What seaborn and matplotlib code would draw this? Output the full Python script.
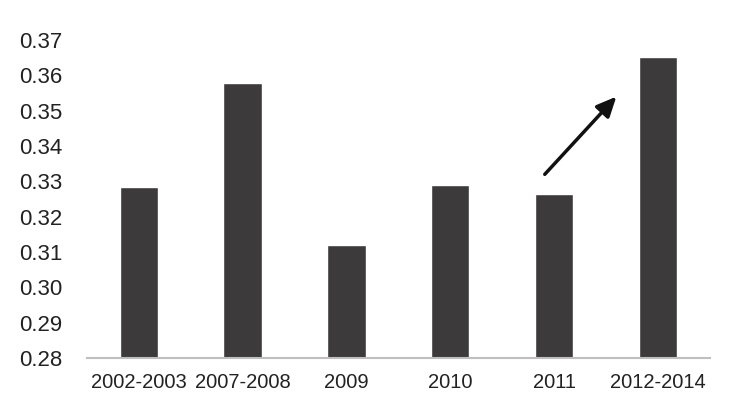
import matplotlib
matplotlib.use("Agg")
import matplotlib.pyplot as plt
import seaborn as sns
import pandas as pd

# podaci ocitani sa slike
periodi = ["2002-2003", "2007-2008", "2009", "2010", "2011", "2012-2014"]
vrednosti = [0.3285, 0.3579, 0.3120, 0.3289, 0.3265, 0.3651]
y_ticks = [0.28, 0.29, 0.30, 0.31, 0.32, 0.33, 0.34, 0.35, 0.36, 0.37]

# strelica (od 2011 ka 2012-2014)
strelica_od = (3.91, 0.3320)
strelica_do = (4.60, 0.3540)

df = pd.DataFrame({"period": periodi, "vrednost": vrednosti})

sns.set_style("white")
plt.rcParams["font.family"] = ["Liberation Sans", "DejaVu Sans"]

fig = plt.figure(figsize=(7.31, 4.13), dpi=100)
ax = fig.add_axes([0.119, 0.133, 0.852, 0.770])

sns.barplot(data=df, x="period", y="vrednost", color="#3d3a3b",
            saturation=1, width=0.37, ax=ax)

ax.set_ylim(0.28, 0.37)
ax.set_xlim(-0.5, 5.5)
ax.set_yticks(y_ticks)
ax.set_yticklabels([f"{v:.2f}" for v in y_ticks], fontsize=16, color="#222222")
ax.tick_params(axis="x", labelsize=14.5, colors="#222222", length=0, pad=11)
ax.tick_params(axis="y", length=0, pad=17.5)
ax.set_xlabel("")
ax.set_ylabel("")

for s in ["top", "right", "left"]:
    ax.spines[s].set_visible(False)
ax.spines["bottom"].set_color("#bfbfbf")
ax.spines["bottom"].set_linewidth(1.5)

ax.annotate("", xy=strelica_do, xytext=strelica_od,
            arrowprops=dict(arrowstyle="-|>,head_length=1.2,head_width=0.55",
                            color="#111111", lw=2.5, shrinkA=0, shrinkB=0))

plt.savefig("out.png", dpi=100)
